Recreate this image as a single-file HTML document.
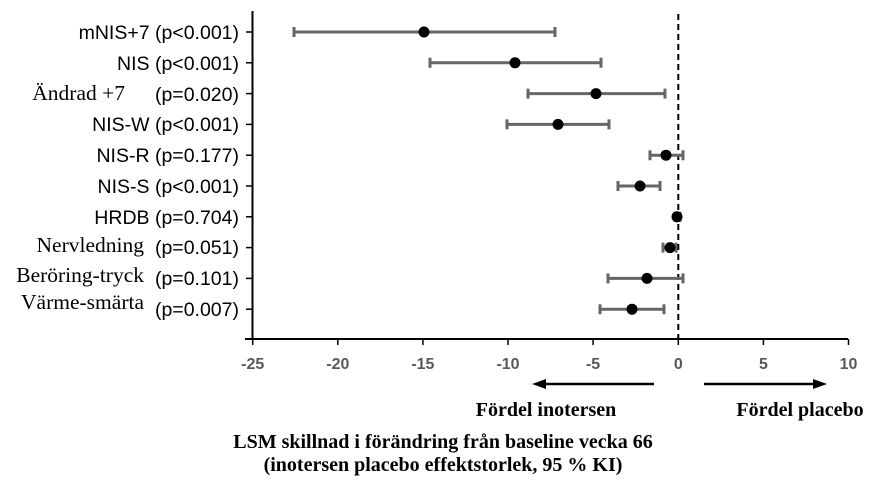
<!DOCTYPE html>
<html><head><meta charset="utf-8"><style>body{margin:0;background:#fff}svg{display:block}</style></head><body>
<svg width="890" height="486" viewBox="0 0 890 486" xmlns="http://www.w3.org/2000/svg">
<g font-family="'Liberation Sans',sans-serif" font-size="19.5" fill="#000" text-anchor="end">
<text x="239" y="39">mNIS+7 (p&lt;0.001)</text>
<text x="239" y="70">NIS (p&lt;0.001)</text>
<text x="239" y="101">(p=0.020)</text>
<text x="239" y="131">NIS-W (p&lt;0.001)</text>
<text x="239" y="162">NIS-R (p=0.177)</text>
<text x="239" y="193">NIS-S (p&lt;0.001)</text>
<text x="239" y="224">HRDB (p=0.704)</text>
<text x="239" y="254">(p=0.051)</text>
<text x="239" y="285">(p=0.101)</text>
<text x="239" y="316">(p=0.007)</text>
</g>
<g font-family="'Liberation Serif',serif" font-size="21.5" fill="#000" text-anchor="end">
<text x="125" y="100">Ändrad +7</text>
<text x="144" y="252">Nervledning</text>
<text x="144" y="282">Beröring-tryck</text>
<text x="144" y="309">Värme-smärta</text>
</g>
<line x1="252.5" y1="11" x2="252.5" y2="340" stroke="#000" stroke-width="2"/>
<line x1="245" y1="339" x2="848" y2="339" stroke="#000" stroke-width="2"/>
<g stroke="#000" stroke-width="1.5">
<line x1="246" y1="32" x2="252" y2="32"/><line x1="246" y1="62.8" x2="252" y2="62.8"/><line x1="246" y1="93.6" x2="252" y2="93.6"/><line x1="246" y1="124.4" x2="252" y2="124.4"/><line x1="246" y1="155.2" x2="252" y2="155.2"/><line x1="246" y1="186" x2="252" y2="186"/><line x1="246" y1="216.8" x2="252" y2="216.8"/><line x1="246" y1="247.6" x2="252" y2="247.6"/><line x1="246" y1="278.4" x2="252" y2="278.4"/><line x1="246" y1="309.2" x2="252" y2="309.2"/>
<line x1="252.7" y1="339" x2="252.7" y2="345"/><line x1="337.8" y1="339" x2="337.8" y2="345"/><line x1="422.9" y1="339" x2="422.9" y2="345"/><line x1="508" y1="339" x2="508" y2="345"/><line x1="593.1" y1="339" x2="593.1" y2="345"/><line x1="678.3" y1="339" x2="678.3" y2="345"/><line x1="763.4" y1="339" x2="763.4" y2="345"/><line x1="848.5" y1="339" x2="848.5" y2="345"/>
</g>
<line x1="678.3" y1="14" x2="678.3" y2="339" stroke="#000" stroke-width="2" stroke-dasharray="6,4"/>
<g font-family="'Liberation Sans',sans-serif" font-size="16" font-weight="bold" fill="#595959" text-anchor="middle">
<text x="252.7" y="369">-25</text><text x="337.8" y="369">-20</text><text x="422.9" y="369">-15</text><text x="508" y="369">-10</text><text x="593.1" y="369">-5</text><text x="678.3" y="369">0</text><text x="763.4" y="369">5</text><text x="848.5" y="369">10</text>
</g>
<g stroke="#666" stroke-width="3" fill="none">
<path d="M294 32H555M294 27v10M555 27v10"/>
<path d="M430 62.8H601M430 57.8v10M601 57.8v10"/>
<path d="M528 93.6H665M528 88.6v10M665 88.6v10"/>
<path d="M507 124.4H609M507 119.4v10M609 119.4v10"/>
<path d="M650 155.2H683M650 150.2v10M683 150.2v10"/>
<path d="M618 186H660M618 181v10M660 181v10"/>
<path d="M675 216.8H680M675 211.8v10M680 211.8v10"/>
<path d="M663 247.6H676M663 242.6v10M676 242.6v10"/>
<path d="M608 278.4H683M608 273.4v10M683 273.4v10"/>
<path d="M600 309.2H664M600 304.2v10M664 304.2v10"/>
</g>
<g fill="#000">
<circle cx="424" cy="32" r="5.5"/><circle cx="515" cy="62.8" r="5.5"/><circle cx="596" cy="93.6" r="5.5"/><circle cx="558" cy="124.4" r="5.5"/><circle cx="666" cy="155.2" r="5.5"/><circle cx="640" cy="186" r="5.5"/><circle cx="677" cy="216.8" r="5.5"/><circle cx="670" cy="247.6" r="5.5"/><circle cx="647" cy="278.4" r="5.5"/><circle cx="632" cy="309.2" r="5.5"/>
</g>
<g stroke="#000" stroke-width="2.5"><line x1="540" y1="384" x2="654" y2="384"/><line x1="704" y1="384" x2="818" y2="384"/></g>
<polygon points="532,384 546,379 546,389" fill="#000"/>
<polygon points="827,384 813,379 813,389" fill="#000"/>
<g font-family="'Liberation Serif',serif" font-size="20" font-weight="bold" fill="#000" text-anchor="middle">
<text x="546" y="416">Fördel inotersen</text>
<text x="800" y="416">Fördel placebo</text>
<text x="443" y="448">LSM skillnad i förändring från baseline vecka 66</text>
<text x="443" y="471">(inotersen placebo effektstorlek, 95 % KI)</text>
</g>
</svg>
</body></html>
